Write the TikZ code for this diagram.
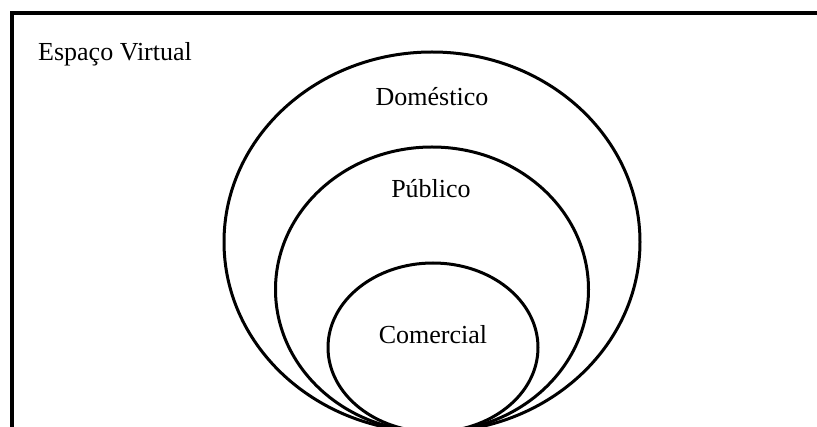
\documentclass[tikz,border=0pt]{standalone}
\usepackage{fontspec}
\setmainfont{Liberation Serif}
\begin{document}
\begin{tikzpicture}[x=1pt,y=-1pt,
  ring/.style={line width=3pt},
  frameline/.style={line width=3.3pt},
  lbl/.style={font=\fontsize{26}{31}\selectfont, inner sep=0pt}]
  \useasboundingbox (0,0) rectangle (817,427);
  \clip (0,0) rectangle (817,427);
  % open frame: left and top edges only
  \draw[frameline] (12,440) -- (12,13) -- (830,13);
  % nested regions, all touching at the bottom
  \draw[ring] (432,242) ellipse [x radius=208pt, y radius=190pt];
  \draw[ring] (432,289.5) ellipse [x radius=156.5pt, y radius=142.5pt];
  \draw[ring] (433,347.5) ellipse [x radius=105pt, y radius=84.5pt];
  % labels
  \node[lbl, anchor=west] (virtual) at (38,54) {Espaço Virtual};
  \node[lbl] (domestico) at (432,97) {Doméstico};
  \node[lbl] (publico) at (431,189) {Público};
  \node[lbl] (comercial) at (433,335) {Comercial};
\end{tikzpicture}
\end{document}
